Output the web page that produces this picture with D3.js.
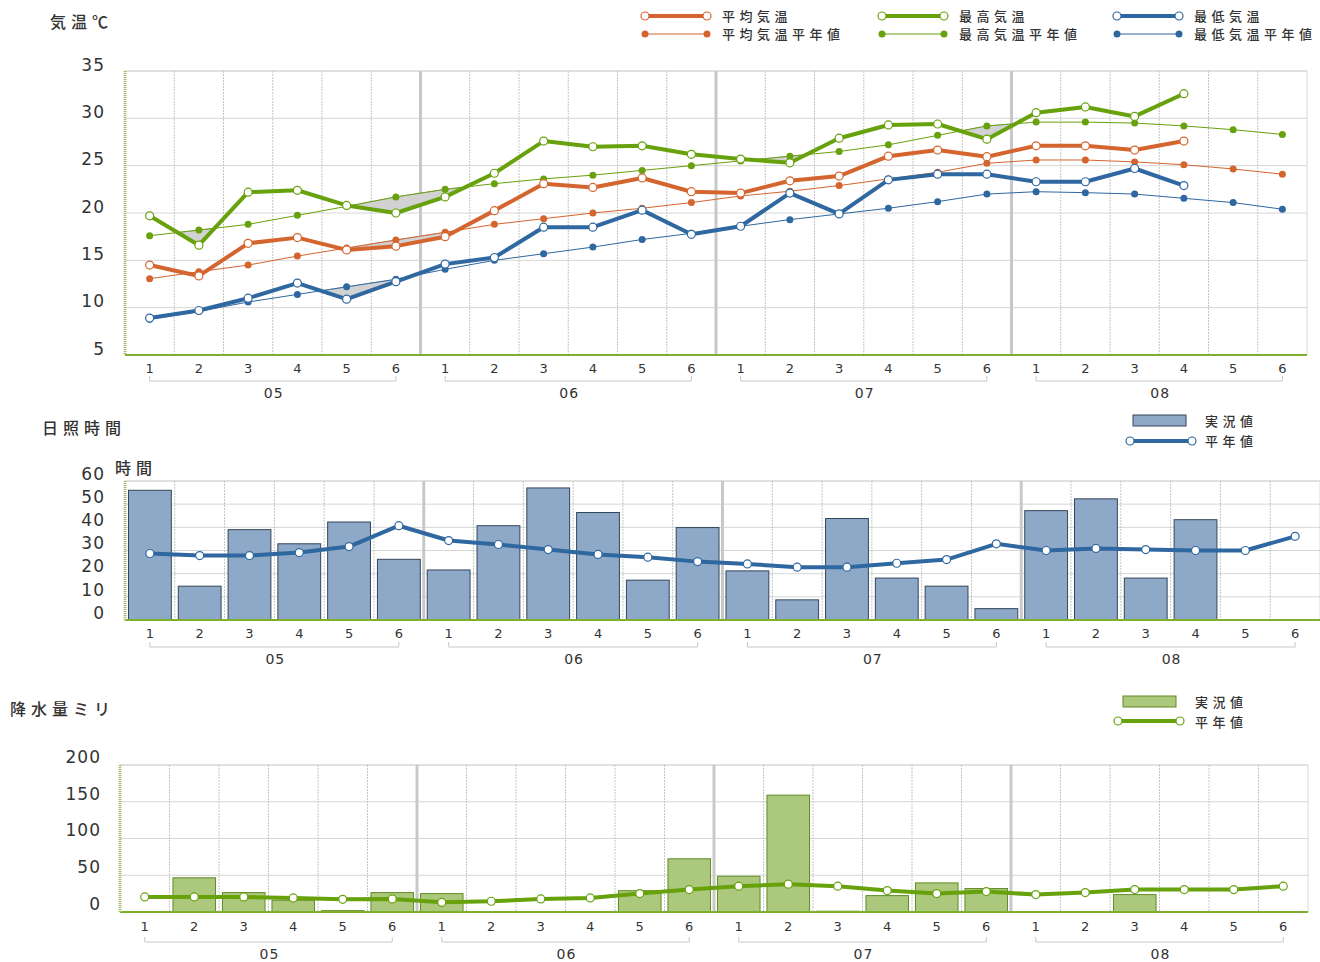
<!DOCTYPE html>
<html>
<head>
<meta charset="utf-8">
<script src="https://cdn.jsdelivr.net/npm/d3@7"></script>
<style>
  body { margin: 0; background: #fff; }
  svg text { font-family: "DejaVu Sans", sans-serif; fill: #333; }
  .jp { font-family: "Noto Sans CJK JP", sans-serif; }
  .ttl { font-size: 16px; letter-spacing: 5px; font-weight: 500; }
  .lg { font-size: 13px; letter-spacing: 4.5px; font-weight: 500; }
</style>
</head>
<body>
<svg id="chart" width="1320" height="962"></svg>
<script>
// categories: 4 months x 6 half-decades (半旬)
const groups = ["05", "06", "07", "08"];
const subs = ["1", "2", "3", "4", "5", "6"];
const keys = [];
groups.forEach(g => subs.forEach(s => keys.push(g + "-" + s)));

// 気温
const tempMean = [14.5, 13.35, 16.8, 17.4, 16.1, 16.5, 17.5, 20.25, 23.1, 22.7, 23.7, 22.25, 22.1, 23.4, 23.9, 26.0, 26.65, 25.95, 27.1, 27.1, 26.65, 27.6, null, null];
const tempMeanNormal = [13.06, 13.8, 14.5, 15.45, 16.3, 17.15, 17.96, 18.8, 19.4, 20.0, 20.5, 21.1, 21.8, 22.3, 22.9, 23.6, 24.3, 25.25, 25.6, 25.6, 25.4, 25.1, 24.65, 24.1];
const tempMax = [19.7, 16.6, 22.2, 22.4, 20.8, 20.0, 21.7, 24.2, 27.6, 27.0, 27.1, 26.2, 25.7, 25.3, 27.9, 29.3, 29.4, 27.8, 30.6, 31.2, 30.2, 32.6, null, null];
const tempMaxNormal = [17.6, 18.2, 18.8, 19.75, 20.7, 21.7, 22.5, 23.1, 23.6, 24.0, 24.5, 25.0, 25.5, 26.0, 26.5, 27.2, 28.2, 29.2, 29.6, 29.6, 29.5, 29.2, 28.8, 28.3];
const tempMin = [8.9, 9.7, 11.0, 12.6, 10.9, 12.75, 14.6, 15.3, 18.5, 18.5, 20.3, 17.75, 18.6, 22.1, 19.9, 23.5, 24.1, 24.1, 23.3, 23.3, 24.7, 22.9, null, null];
const tempMinNormal = [8.77, 9.6, 10.6, 11.4, 12.2, 13.0, 14.05, 15.0, 15.7, 16.4, 17.2, 17.85, 18.6, 19.3, 19.9, 20.5, 21.2, 22.0, 22.25, 22.15, 22.0, 21.55, 21.1, 20.4];
const tempTicks = [5, 10, 15, 20, 25, 30, 35];

// 日照時間
const sunActual = [56, 14.6, 39, 32.9, 42.3, 26.2, 21.6, 40.7, 57, 46.4, 17.2, 39.9, 21.2, 8.7, 43.8, 18.1, 14.6, 4.9, 47.2, 52.3, 18.1, 43.3, null, null];
const sunNormal = [28.7, 27.8, 27.8, 29.1, 31.7, 40.7, 34.3, 32.6, 30.4, 28.3, 27.1, 25.2, 24.2, 22.8, 22.8, 24.5, 26.1, 32.9, 30.0, 30.9, 30.4, 30.0, 30.0, 36.1];
const sunTicks = [0, 10, 20, 30, 40, 50, 60];

// 降水量
const rainActual = [0, 46.5, 26.4, 16, 1.8, 26.4, 25, 0, 0, 0, 29, 72.4, 48.7, 159, 1, 22.3, 39.6, 31.9, 0, 0, 23.7, 0, null, null];
const rainNormal = [20.5, 20.5, 20.5, 19.1, 17.3, 17.8, 13.2, 14.6, 17.8, 19.1, 25.1, 30.5, 35.1, 37.8, 35.1, 29.2, 25.1, 27.8, 23.7, 26.4, 30.5, 30.5, 30.5, 35.1];
const rainTicks = [0, 50, 100, 150, 200];

const orange = "#d5652f", green = "#67a10c", blue = "#2f67a0";

const svg = d3.select("#chart");

// draws grid, axes and group brackets; returns scales
function makePanel(p) {
  const x = d3.scaleBand().domain(keys).range([p.x0, p.x1]);
  const y = d3.scaleLinear().domain(p.domain).range([p.bottom, p.top]);
  const g = svg.append("g");
  const bw = x.bandwidth();

  g.append("rect")
    .attr("x", p.x0).attr("y", p.top)
    .attr("width", p.x1 - p.x0).attr("height", p.bottom - p.top)
    .attr("fill", "#fff").attr("stroke", "#d8d8d8");

  // horizontal grid
  g.selectAll(".hg").data(p.ticks).enter().append("line")
    .attr("x1", p.x0).attr("x2", p.x1)
    .attr("y1", d => y(d)).attr("y2", d => y(d))
    .attr("stroke", "#d6d6d6");

  // vertical grid
  const vx = d3.range(1, keys.length);
  g.selectAll(".vg").data(vx).enter().append("line")
    .attr("x1", i => p.x0 + i * bw).attr("x2", i => p.x0 + i * bw)
    .attr("y1", p.top).attr("y2", p.bottom)
    .attr("stroke", i => i % 6 === 0 ? "#c8c8c8" : "#c4c4c4")
    .attr("stroke-width", i => i % 6 === 0 ? 3 : 1)
    .attr("stroke-dasharray", i => i % 6 === 0 ? null : "2,1");

  // y axis
  const ya = g.append("g")
    .attr("transform", `translate(${p.labelX + 1},0)`)
    .call(d3.axisLeft(y).tickValues(p.ticks).tickSize(0).tickPadding(0));
  ya.select(".domain").remove();
  ya.selectAll("text")
    .attr("dy", p.labelDy)
    .style("font-size", "17px")
    .style("letter-spacing", "1px")
    .style("font-family", "DejaVu Sans, sans-serif")
    .attr("fill", "#333");

  // x axis
  const xa = g.append("g")
    .attr("transform", `translate(0,${p.tickY})`)
    .call(d3.axisBottom(x).tickFormat(k => k.split("-")[1]).tickSize(0).tickPadding(0));
  xa.select(".domain").remove();
  xa.selectAll("text")
    .style("font-size", "13px")
    .style("font-family", "DejaVu Sans, sans-serif")
    .attr("fill", "#333");

  // group brackets
  groups.forEach(gr => {
    const a = x(gr + "-1") + bw / 2, b = x(gr + "-6") + bw / 2;
    g.append("path")
      .attr("d", `M${a},${p.bracketY - 5}V${p.bracketY}H${b}V${p.bracketY - 5}`)
      .attr("fill", "none").attr("stroke", "#c8c8c8");
    g.append("text")
      .attr("x", (a + b) / 2 + 1).attr("y", p.bracketY + 17)
      .attr("text-anchor", "middle")
      .style("font-size", "14px")
      .style("letter-spacing", "1px")
      .attr("fill", "#333")
      .text(gr);
  });

  return { x, y, g, bw, p };
}

function finishAxes(pn) {
  const p = pn.p;
  pn.g.append("line")
    .attr("x1", p.x0).attr("x2", p.x1).attr("y1", p.bottom).attr("y2", p.bottom)
    .attr("stroke", "#7cb02e").attr("stroke-width", 2);
  pn.g.append("line")
    .attr("x1", p.x0).attr("x2", p.x0).attr("y1", p.top).attr("y2", p.bottom)
    .attr("stroke", "#a9c36e").attr("stroke-width", 3)
    .attr("stroke-dasharray", "1,1");
}

function drawLine(pn, vals, color, thick) {
  const pts = keys.map((k, i) => ({ k, v: vals[i] })).filter(d => d.v != null);
  const line = d3.line().x(d => pn.x(d.k) + pn.bw / 2).y(d => pn.y(d.v));
  pn.g.append("path").datum(pts)
    .attr("d", line).attr("fill", "none")
    .attr("stroke", color).attr("stroke-width", thick ? 4 : 1)
    .attr("stroke-linejoin", "round");
  pn.g.selectAll(null).data(pts).enter().append("circle")
    .attr("cx", d => pn.x(d.k) + pn.bw / 2)
    .attr("cy", d => pn.y(d.v))
    .attr("r", thick ? 4 : 3.5)
    .attr("fill", thick ? "#fff" : color)
    .attr("stroke", thick ? color : "none")
    .attr("stroke-width", 1.2);
}

// gray area where actual is below normal
let clipId = 0;
function drawShade(pn, actual, normal) {
  const idx = d3.range(keys.length).filter(i => actual[i] != null && normal[i] != null);
  const cx = i => pn.x(keys[i]) + pn.bw / 2;
  const id = "clip" + (clipId++);
  pn.g.append("clipPath").attr("id", id).append("path")
    .attr("d", d3.area().x(cx).y0(pn.p.top).y1(i => pn.y(actual[i]))(idx));
  pn.g.append("path")
    .attr("d", d3.area().x(cx).y0(pn.p.bottom).y1(i => pn.y(normal[i]))(idx))
    .attr("clip-path", `url(#${id})`)
    .attr("fill", "#d2d2d2").attr("stroke", "#999").attr("stroke-width", 0.6);
}

function drawBars(pn, vals, fill, stroke) {
  const pts = keys.map((k, i) => ({ k, v: vals[i] })).filter(d => d.v != null && d.v > 0);
  const w = pn.bw * 0.86;
  pn.g.selectAll(null).data(pts).enter().append("rect")
    .attr("x", d => pn.x(d.k) + (pn.bw - w) / 2)
    .attr("y", d => pn.y(d.v))
    .attr("width", w)
    .attr("height", d => pn.y(0) - pn.y(d.v))
    .attr("fill", fill).attr("stroke", stroke).attr("stroke-width", 1);
}

function jpText(x, y, t, cls) {
  svg.append("text").attr("class", "jp " + cls)
    .attr("x", x).attr("y", y)
    .text(t);
}

function legendLine(x, y, c, thick, t) {
  svg.append("line").attr("x1", x).attr("x2", x + 62).attr("y1", y).attr("y2", y)
    .attr("stroke", c).attr("stroke-width", thick ? 4 : 1);
  [x, x + 62].forEach(cx => svg.append("circle").attr("cx", cx).attr("cy", y)
    .attr("r", thick ? 4 : 3.5)
    .attr("fill", thick ? "#fff" : c)
    .attr("stroke", thick ? c : "none").attr("stroke-width", 1.2));
  if (t) jpText(x + 77, y + 5, t, "lg");
}

// ---------- 気温 ----------
jpText(50, 28, "気温℃", "ttl");
const tp = makePanel({ x0: 125, x1: 1307, top: 71, bottom: 355, domain: [5, 35], ticks: tempTicks,
  labelX: 104, labelDy: "-0.05em", tickY: 364, bracketY: 381 });
drawShade(tp, tempMax, tempMaxNormal);
drawShade(tp, tempMean, tempMeanNormal);
drawShade(tp, tempMin, tempMinNormal);
drawLine(tp, tempMaxNormal, green, false);
drawLine(tp, tempMeanNormal, orange, false);
drawLine(tp, tempMinNormal, blue, false);
drawLine(tp, tempMax, green, true);
drawLine(tp, tempMean, orange, true);
drawLine(tp, tempMin, blue, true);
finishAxes(tp);

// legend
const tLegend = [
  { x: 645, y: 16, c: orange, thick: true, t: "平均気温" },
  { x: 882, y: 16, c: green, thick: true, t: "最高気温" },
  { x: 1117, y: 16, c: blue, thick: true, t: "最低気温" },
  { x: 645, y: 34, c: orange, thick: false, t: "平均気温平年値" },
  { x: 882, y: 34, c: green, thick: false, t: "最高気温平年値" },
  { x: 1117, y: 34, c: blue, thick: false, t: "最低気温平年値" }
];
tLegend.forEach(d => legendLine(d.x, d.y, d.c, d.thick, d.t));

// ---------- 日照時間 ----------
jpText(42, 434, "日照時間", "ttl");
const sp = makePanel({ x0: 125, x1: 1320, top: 481, bottom: 620, domain: [0, 60], ticks: sunTicks,
  labelX: 104, labelDy: "-0.1em", tickY: 629, bracketY: 647 });
drawBars(sp, sunActual, "#8ea8c8", "#34465a");
drawLine(sp, sunNormal, blue, true);
finishAxes(sp);
jpText(115, 474, "時間", "ttl");
svg.append("rect").attr("x", 1133).attr("y", 415).attr("width", 53).attr("height", 11)
  .attr("fill", "#8ea8c8").attr("stroke", "#34465a");
jpText(1205, 426, "実況値", "lg");
legendLine(1130, 441, blue, true, "");
jpText(1205, 446, "平年値", "lg");

// ---------- 降水量 ----------
jpText(10, 715, "降水量ミリ", "ttl");
const rp = makePanel({ x0: 120, x1: 1308, top: 765, bottom: 912, domain: [0, 200], ticks: rainTicks,
  labelX: 100, labelDy: "-0.15em", tickY: 922, bracketY: 942 });
drawBars(rp, rainActual, "#abc87c", "#5f8c24");
drawLine(rp, rainNormal, green, true);
finishAxes(rp);
svg.append("rect").attr("x", 1123).attr("y", 696).attr("width", 53).attr("height", 11)
  .attr("fill", "#abc87c").attr("stroke", "#5f8c24");
jpText(1195, 707, "実況値", "lg");
legendLine(1118, 721, green, true, "");
jpText(1195, 727, "平年値", "lg");
</script>
</body>
</html>
